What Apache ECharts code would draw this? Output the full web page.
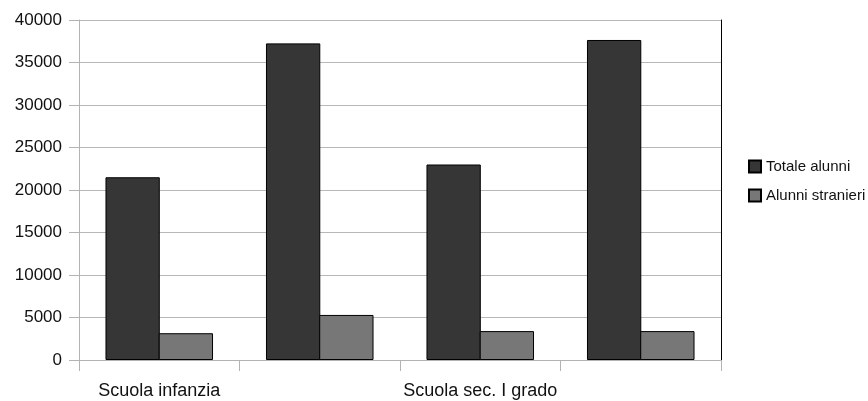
<!DOCTYPE html>
<html>
<head>
<meta charset="utf-8">
<script src="https://cdn.jsdelivr.net/npm/echarts@6/dist/echarts.min.js"></script>
<style>
html,body{margin:0;padding:0;background:#fff;}
#c{width:868px;height:401px;}
</style>
</head>
<body>
<div id="c"></div>
<script>
const categories = ["Scuola infanzia", "Scuola primaria", "Scuola sec. I grado", "Scuola sec. II grado"];
const totaleAlunni = [21500, 37250, 23000, 37650];
const alunniStranieri = [3150, 5300, 3400, 3400];
const seriesNames = ["Totale alunni", "Alunni stranieri"];
const yTicks = {min: 0, max: 40000, interval: 5000};

const chart = echarts.init(document.getElementById('c'), null, {renderer: 'canvas'});
const font = 'Liberation Sans, Arial, sans-serif';
chart.setOption({
  animation: false,
  backgroundColor: '#ffffff',
  grid: {left: 79, right: 147, top: 20, bottom: 41, containLabel: false},
  legend: {
    orient: 'vertical',
    left: 748, top: 159, padding: 0,
    itemWidth: 12, itemHeight: 12, itemGap: 14,
    icon: 'rect',
    textStyle: {fontFamily: font, fontSize: 15, color: '#111'},
    data: seriesNames
  },
  xAxis: {
    type: 'category',
    data: categories,
    boundaryGap: true,
    axisLine: {lineStyle: {color: '#b3b3b3', width: 1}},
    axisTick: {show: true, interval: 0, length: 11, lineStyle: {color: '#b3b3b3'}},
    axisLabel: {interval: 1, margin: 22, fontFamily: font, fontSize: 18, color: '#111'},
    splitLine: {show: false}
  },
  yAxis: [{
    type: 'value',
    min: yTicks.min, max: yTicks.max, interval: yTicks.interval,
    axisLine: {show: true, lineStyle: {color: '#b3b3b3', width: 1}},
    axisTick: {show: true, length: 10, lineStyle: {color: '#b3b3b3'}},
    axisLabel: {margin: 17, fontFamily: font, fontSize: 17, color: '#111', formatter: function (v) { return String(v); }},
    splitLine: {show: true, lineStyle: {color: '#b8b8b8', width: 1}}
  }, {
    type: 'value',
    position: 'right',
    min: yTicks.min, max: yTicks.max, interval: yTicks.interval,
    axisLine: {show: true, lineStyle: {color: '#000', width: 1}},
    axisTick: {show: false},
    axisLabel: {show: false},
    splitLine: {show: false}
  }],
  series: [{
    name: seriesNames[0],
    type: 'bar',
    data: totaleAlunni,
    barGap: '-2%',
    barCategoryGap: '33%',
    itemStyle: {color: '#363636', borderColor: '#000', borderWidth: 1}
  }, {
    name: seriesNames[1],
    type: 'bar',
    data: alunniStranieri,
    barGap: '-2%',
    barCategoryGap: '33%',
    itemStyle: {color: '#777777', borderColor: '#000', borderWidth: 1}
  }]
});
</script>
</body>
</html>
